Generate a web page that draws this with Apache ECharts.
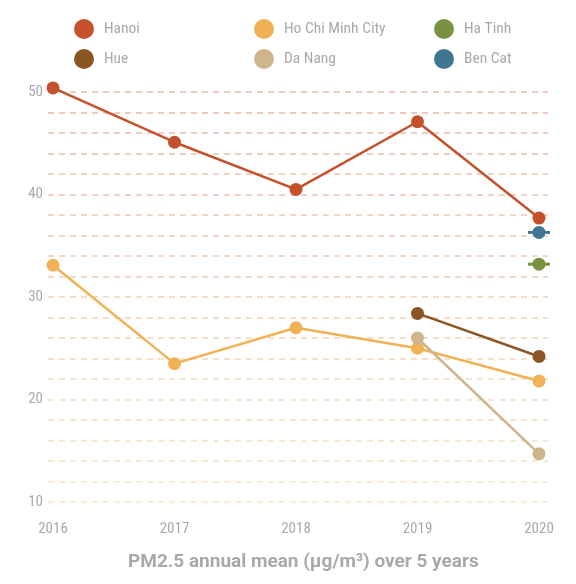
<!DOCTYPE html>
<html>
<head>
<meta charset="utf-8">
<script src="https://cdn.jsdelivr.net/npm/echarts@6/dist/echarts.min.js"></script>
<style>
  html, body { margin: 0; padding: 0; background: #fff; }
  #main { width: 576px; height: 584px; }
</style>
</head>
<body>
<div id="main"></div>
<script>
// data
var years = ['2016', '2017', '2018', '2019', '2020'];
var hanoi = [50.4, 45.1, 40.5, 47.1, 37.7];
var hcmc = [33.1, 23.5, 27.0, 25.0, 21.8];
var haTinh = [null, null, null, null, 33.2];
var hue = [null, null, null, 28.4, 24.2];
var daNang = [null, null, null, 26.0, 14.7];
var benCat = [null, null, null, null, 36.3];
var yTicks = [10, 20, 30, 40, 50];

var font = "'Roboto Condensed', 'Liberation Sans Narrow', 'Roboto', sans-serif";
var grey = '#a9a9a9';

// dashed gridlines fade from pale yellow (bottom) to soft red (top)
function mix(a, b, t) {
  var r = Math.round(a[0] + (b[0] - a[0]) * t);
  var g = Math.round(a[1] + (b[1] - a[1]) * t);
  var bl = Math.round(a[2] + (b[2] - a[2]) * t);
  return 'rgb(' + r + ',' + g + ',' + bl + ')';
}
var gridColors = [];
for (var i = 0; i <= 20; i++) {
  gridColors.push(mix([247, 233, 196], [232, 184, 170], i / 20));
}

var myChart = echarts.init(document.getElementById('main'));

function lineSeries(name, data, color) {
  return {
    name: name,
    type: 'line',
    data: data,
    symbol: 'circle',
    symbolSize: 13,
    clip: false,
    lineStyle: { width: 2.5, color: color },
    itemStyle: { color: color, opacity: 1 },
    z: 3
  };
}
function dashSeries(name, data, color) {
  return {
    name: name,
    type: 'scatter',
    data: data,
    symbol: 'rect',
    symbolSize: [22, 3],
    itemStyle: { color: color, opacity: 1 },
    z: 2
  };
}

var legendBase = {
  orient: 'vertical',
  top: 14,
  icon: 'circle',
  itemWidth: 20,
  itemHeight: 20,
  itemGap: 10,
  textStyle: { color: grey, fontSize: 15.5, fontFamily: font, padding: [0, 0, 0, 5] }
};

var option = {
  backgroundColor: '#fff',
  animation: false,
  title: {
    text: 'PM2.5 annual mean (µg/m³) over 5 years',
    left: 123,
    top: 548,
    textStyle: { color: grey, fontSize: 19, fontWeight: 'bold', fontFamily: 'Roboto, sans-serif' }
  },
  legend: [
    Object.assign({}, legendBase, { left: 69, data: ['Hanoi', 'Hue'] }),
    Object.assign({}, legendBase, { left: 249, data: ['Ho Chi Minh City', 'Da Nang'] }),
    Object.assign({}, legendBase, { left: 429, data: ['Ha Tinh', 'Ben Cat'] })
  ],
  grid: [
    { left: 53, right: 37, top: 92, bottom: 82 },
    { left: 48, right: 28, top: 92, bottom: 82 }
  ],
  xAxis: [{
    type: 'category',
    data: years,
    boundaryGap: false,
    axisLine: { show: false },
    axisTick: { show: false },
    axisLabel: { color: grey, fontSize: 15, fontFamily: font, margin: 20 }
  }, {
    gridIndex: 1,
    type: 'value',
    min: 0,
    max: 1,
    show: false
  }],
  yAxis: [{
    type: 'value',
    min: 10,
    max: 50,
    interval: 2,
    axisLine: { show: false },
    axisTick: { show: false },
    splitLine: { show: false },
    axisLabel: {
      color: grey, fontSize: 15, fontFamily: font, margin: 10,
      formatter: function (v) { return yTicks.indexOf(v) >= 0 ? String(v) : ''; }
    }
  }, {
    // wider grid just for the dashed lines, which run past the first and last year
    gridIndex: 1,
    type: 'value',
    min: 10,
    max: 50,
    interval: 2,
    axisLine: { show: false },
    axisTick: { show: false },
    axisLabel: { show: false },
    splitLine: {
      lineStyle: { type: [6, 5], width: 1.5, color: gridColors }
    }
  }],
  series: [
    lineSeries('Hanoi', hanoi, '#c4512b'),
    lineSeries('Hue', hue, '#8b5624'),
    lineSeries('Ho Chi Minh City', hcmc, '#f0b254'),
    lineSeries('Da Nang', daNang, '#cfb58c'),
    lineSeries('Ha Tinh', haTinh, '#7a9140'),
    lineSeries('Ben Cat', benCat, '#3f7691'),
    dashSeries('Ha Tinh', haTinh, '#7a9140'),
    dashSeries('Ben Cat', benCat, '#3f7691')
  ]
};

myChart.setOption(option);
</script>
</body>
</html>
